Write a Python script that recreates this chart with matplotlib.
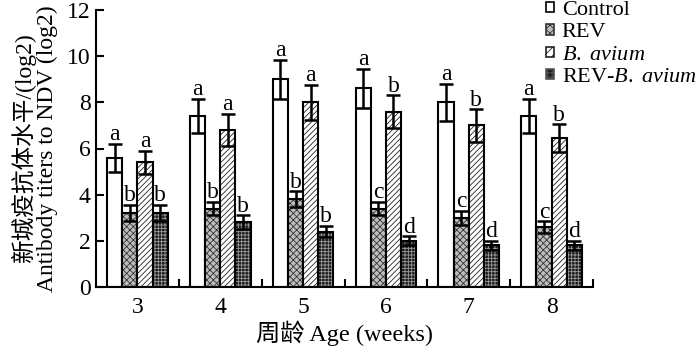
import numpy as np
import matplotlib
matplotlib.use('Agg')
import matplotlib.pyplot as plt
from matplotlib.patches import Patch

plt.rcParams['font.family'] = ['Liberation Serif', 'Noto Sans CJK SC']
plt.rcParams['mathtext.fontset'] = 'custom'
plt.rcParams['mathtext.rm'] = 'Liberation Serif'
plt.rcParams['mathtext.it'] = 'Liberation Serif:italic'
plt.rcParams['hatch.linewidth'] = 0.6

weeks = ['3', '4', '5', '6', '7', '8']
groups = ['Control', 'REV', '$\\it{B.\\ avium}$', 'REV-$\\it{B.\\ avium}$']

control = [5.6, 7.4, 9.0, 8.6, 8.0, 7.4]
control_err = [0.6, 0.75, 0.85, 0.85, 0.8, 0.75]
rev = [3.2, 3.4, 3.8, 3.4, 3.0, 2.6]
rev_err = [0.35, 0.3, 0.35, 0.3, 0.3, 0.25]
bav = [5.4, 6.8, 8.0, 7.6, 7.0, 6.45]
bav_err = [0.5, 0.7, 0.75, 0.7, 0.7, 0.6]
revbav = [3.2, 2.8, 2.4, 2.0, 1.8, 1.8]
revbav_err = [0.35, 0.3, 0.25, 0.2, 0.2, 0.2]

letters = [['a', 'a', 'a', 'a', 'a', 'a'],
           ['b', 'b', 'b', 'c', 'c', 'c'],
           ['a', 'a', 'a', 'b', 'b', 'b'],
           ['b', 'b', 'b', 'd', 'd', 'd']]

fig = plt.figure(figsize=(7, 3.51), dpi=100)
ax = fig.add_axes([96/700, 1-287/351, (593-96)/700, (287-10)/351])

x = np.arange(len(weeks))
w = 0.183
vals = [control, rev, bav, revbav]
errs = [control_err, rev_err, bav_err, revbav_err]

for i in range(4):
    pos = x + (i - 1.5) * w
    if i == 0:
        ax.bar(pos, vals[i], w, color='white', edgecolor='black', linewidth=1.5)
    elif i == 1:
        ax.bar(pos, vals[i], w, color='#bdbdbd', edgecolor='#333333', hatch='xxxxx', linewidth=0)
        ax.bar(pos, vals[i], w, fill=False, edgecolor='black', linewidth=1.5)
    elif i == 2:
        ax.bar(pos, vals[i], w, color='white', edgecolor='#222222', hatch='//////', linewidth=0)
        ax.bar(pos, vals[i], w, fill=False, edgecolor='black', linewidth=1.5)
    else:
        ax.bar(pos, vals[i], w, color='#1a1a1a', edgecolor='#9a9a9a', hatch='+++++', linewidth=0)
        ax.bar(pos, vals[i], w, fill=False, edgecolor='black', linewidth=1.5)
    ax.errorbar(pos, vals[i], yerr=errs[i], fmt='none', ecolor='black',
                elinewidth=1.8, capsize=5, capthick=1.8)
    for j in range(len(weeks)):
        ax.annotate(letters[i][j], (pos[j], vals[i][j] + errs[i][j]),
                    xytext=(0, -1), textcoords='offset points',
                    ha='center', va='bottom', fontsize=17)

ax.set_xlim(-0.5, 5.5)
ax.set_ylim(0, 12)
ax.set_yticks([0, 2, 4, 6, 8, 10, 12])
ax.set_xticks(x)
ax.set_xticklabels(weeks)
ax.set_xticks(x + 0.5, minor=True)
ax.tick_params(axis='x', which='major', length=0, labelsize=17, pad=7)
ax.tick_params(axis='x', which='minor', direction='in', length=6, width=1.5)
ax.tick_params(axis='y', direction='in', length=6, width=1.5, labelsize=17, pad=4)
ax.spines['top'].set_visible(False)
ax.spines['right'].set_visible(False)
ax.spines['left'].set_linewidth(1.5)
ax.spines['bottom'].set_linewidth(1.5)

ax.set_ylabel('新城疫抗体水平/(log2)\nAntibody titers to NDV (log2)', fontsize=17, linespacing=1.05, labelpad=6)
ax.set_xlabel('周龄 Age (weeks)', fontsize=17.5, labelpad=2)

handles = [Patch(facecolor='white', edgecolor='black', linewidth=1.2),
           Patch(facecolor='#bdbdbd', edgecolor='#333333', hatch='xxxx', linewidth=1.2),
           Patch(facecolor='white', edgecolor='#222222', hatch='////', linewidth=1.2),
           Patch(facecolor='#1a1a1a', edgecolor='#555555', hatch='++++', linewidth=1.2)]
fig.legend(handles, groups, loc='upper left', bbox_to_anchor=(533/700, 1.035),
           frameon=False, fontsize=16, handlelength=0.34, handleheight=0.34,
           handletextpad=0.35, labelspacing=0.15, borderpad=0.1)

fig.savefig('out.png', dpi=100)
